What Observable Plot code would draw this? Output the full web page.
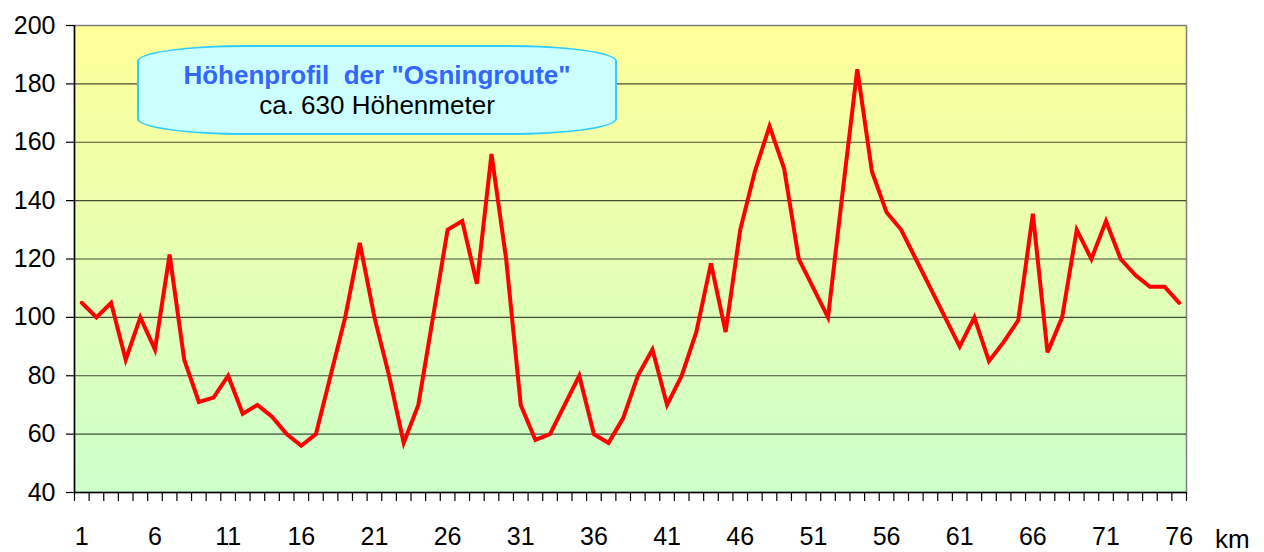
<!DOCTYPE html>
<html>
<head>
<meta charset="utf-8">
<script src="https://cdn.jsdelivr.net/npm/d3@7"></script>
<script src="https://cdn.jsdelivr.net/npm/@observablehq/plot@0.6"></script>
<style>
  html, body { margin: 0; padding: 0; background: #ffffff; }
  #wrap { position: relative; width: 1264px; height: 552px; font-family: "Liberation Sans", Arial, sans-serif; }
  #box {
    position: absolute; left: 137px; top: 45px; width: 476px; height: 86px;
    background: #ccffff; border: 2px solid #33ccff; border-radius: 110px / 16px;
    text-align: center; box-sizing: content-box;
  }
  #box .t1 { position: absolute; left: 0; right: 0; top: 13px; font-weight: bold; color: #3366ff; font-size: 26px; line-height: 30px; white-space: pre; }
  #box .t2 { position: absolute; left: 0; right: 0; top: 43px; color: #000; font-size: 26px; line-height: 30px; }
  #km { position: absolute; left: 1215px; top: 524px; font-size: 26px; line-height: 30px; color: #000; }
</style>
</head>
<body>
<div id="wrap">
  <div id="chart"></div>
  <div id="box"><div class="t1">Höhenprofil  der "Osningroute"</div><div class="t2">ca. 630 Höhenmeter</div></div>
  <div id="km">km</div>
</div>
<script>
const km = [1,2,3,4,5,6,7,8,9,10,11,12,13,14,15,16,17,18,19,20,21,22,23,24,25,26,27,28,29,30,31,32,33,34,35,36,37,38,39,40,41,42,43,44,45,46,47,48,49,50,51,52,53,54,55,56,57,58,59,60,61,62,63,64,65,66,67,68,69,70,71,72,73,74,75,76];
const elevation = [105,100,105,85.5,100,89,121.5,85.5,71,72.5,
  80,67,70,66,60,56,60,80,100,125.5,
  100,80,57,70,100,130,133,111.5,156,120,
  70,58,60,70,80,60,57,65.5,80,89,
  70,80,95,118.5,95,130,150,165.5,151,120,
  110,100,143,185,150,136,130,120,110,100,
  90,100,85,91.5,99,135.5,88,100,130,120,
  133,120,114.5,110.5,110.5,105];
const xLabels = [1,6,11,16,21,26,31,36,41,46,51,56,61,66,71,76];
const yTicks = [40,60,80,100,120,140,160,180,200];
const gridLines = [60,80,100,120,140,160,180];
const tickEdges = [0.5,1.5,2.5,3.5,4.5,5.5,6.5,7.5,8.5,9.5,10.5,11.5,12.5,13.5,14.5,15.5,16.5,17.5,18.5,19.5,20.5,21.5,22.5,23.5,24.5,25.5,26.5,27.5,28.5,29.5,30.5,31.5,32.5,33.5,34.5,35.5,36.5,37.5,38.5,39.5,40.5,41.5,42.5,43.5,44.5,45.5,46.5,47.5,48.5,49.5,50.5,51.5,52.5,53.5,54.5,55.5,56.5,57.5,58.5,59.5,60.5,61.5,62.5,63.5,64.5,65.5,66.5,67.5,68.5,69.5,70.5,71.5,72.5,73.5,74.5,75.5,76.5];

const data = km.map((k, i) => ({km: k, h: elevation[i]}));

const defs = () => {
  const d = d3.create("svg:defs");
  const g = d.append("linearGradient").attr("id", "bggrad").attr("x1", 0).attr("y1", 0).attr("x2", 0).attr("y2", 1);
  g.append("stop").attr("offset", "0%").attr("stop-color", "#ffff99");
  g.append("stop").attr("offset", "100%").attr("stop-color", "#ccffcc");
  return d.node();
};

const chart = Plot.plot({
  width: 1264,
  height: 552,
  marginLeft: 74,
  marginRight: 78,
  marginTop: 25,
  marginBottom: 60,
  style: {fontFamily: "'Liberation Sans', Arial, sans-serif", fontSize: "25px", color: "#000", background: "transparent"},
  x: {type: "linear", domain: [0.5, 76.5], label: null},
  y: {domain: [40, 200], label: null},
  marks: [
    defs,
    Plot.frame({fill: "url(#bggrad)", stroke: "#808080", strokeWidth: 1.5}),
    Plot.ruleY(gridLines, {stroke: "#000", strokeWidth: 1.2, strokeOpacity: 0.7}),
    Plot.ruleX([0.5], {stroke: "#000", strokeWidth: 1.5}),
    Plot.ruleY([40], {stroke: "#000", strokeWidth: 1.5}),
    Plot.axisY({ticks: yTicks, tickSize: 8, tickPadding: 11, tickFormat: d => String(d), fontSize: 25, stroke: "#000", strokeWidth: 1.2, label: null}),
    Plot.axisX({ticks: tickEdges, tickSize: 9, tickFormat: () => "", stroke: "#000", strokeWidth: 1.2, label: null}),
    Plot.axisX({ticks: xLabels, tickSize: 0, tickPadding: 35, tickFormat: d => String(d), fontSize: 25, label: null}),
    Plot.line(data, {x: "km", y: "h", stroke: "#ff0000", strokeWidth: 4, strokeLinejoin: "miter", strokeMiterlimit: 4})
  ]
});
document.getElementById("chart").appendChild(chart);
</script>
</body>
</html>
